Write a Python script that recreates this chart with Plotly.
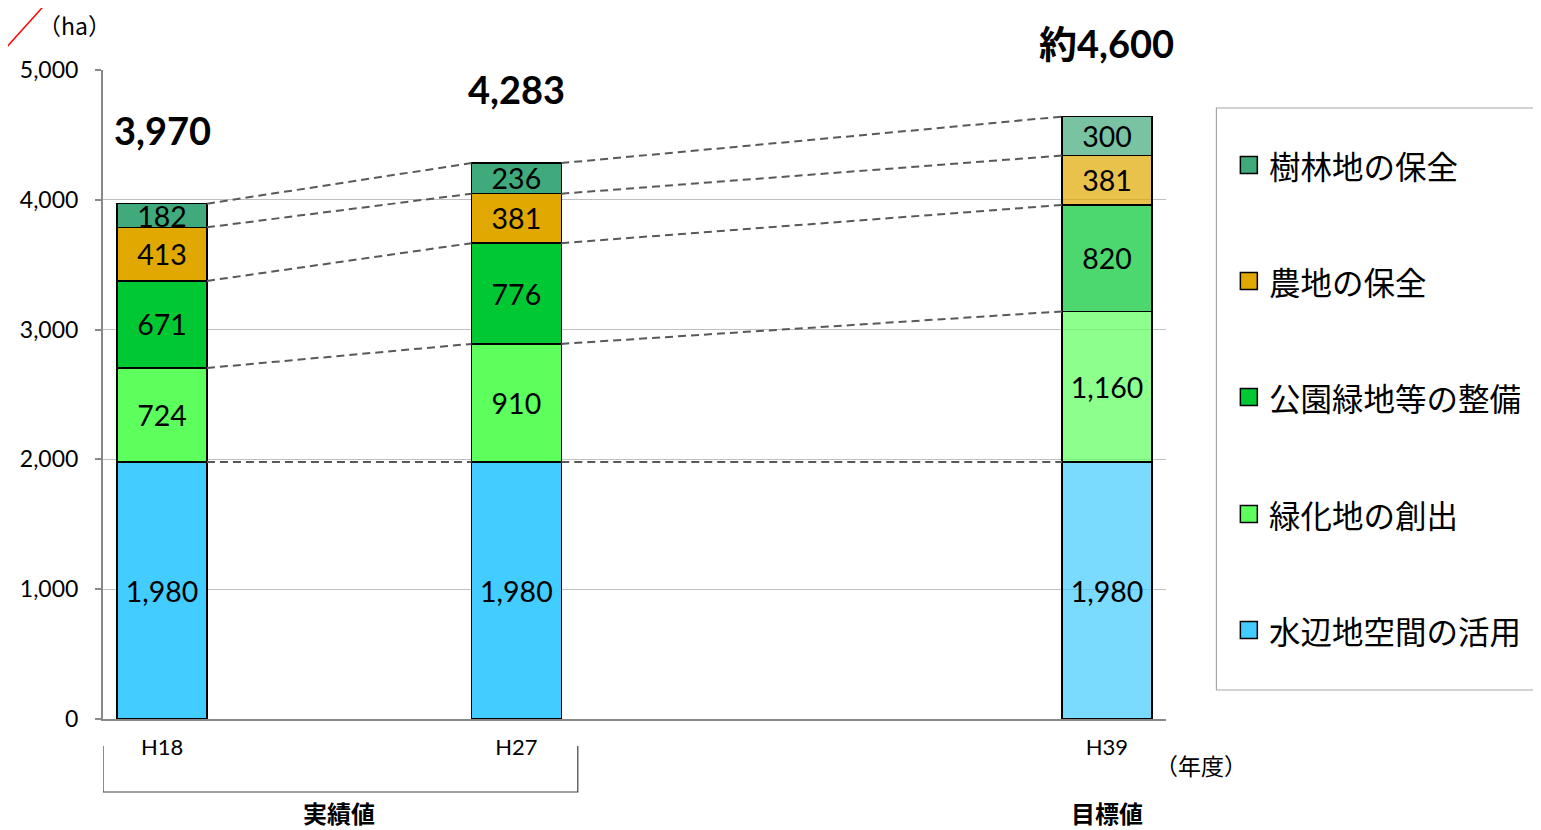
import plotly.graph_objects as go

# ---------------- data ----------------
years = ["H18", "H27", "H39"]
x_idx = [0, 3, 8]          # category slot of each year on a 9-slot axis
series_names = ["水辺地空間の活用", "緑化地の創出", "公園緑地等の整備", "農地の保全", "樹林地の保全"]
water = [1980, 1980, 1980]
greening = [724, 910, 1160]
parks = [671, 776, 820]
farmland = [413, 381, 381]
woodland = [182, 236, 300]
totals_text = ["3,970", "4,283", "約4,600"]
series_values = [water, greening, parks, farmland, woodland]
series_colors = [(66, 204, 255), (92, 255, 92), (0, 200, 50), (224, 168, 0), (64, 170, 124)]
target_alpha = 0.7
group_labels = ["実績値", "目標値"]

# ---------------- layout helpers ----------------
OX, OY = 8, 8                      # page body margin
W, H = 1541 - OX, 830 - OY
L, R, T, B = 101, 1166, 70, 719    # plot area in page pixels
def px(x):
    return (x - L) / (R - L)
def py(y):
    return (B - y) / (B - T)

FONT = "Lato, 'Noto Sans CJK JP', sans-serif"
JFONT = "'Noto Sans CJK JP', Lato, sans-serif"
bar_w = 0.76

fig = go.Figure()

for name, vals, (r, g, b) in zip(series_names, series_values, series_colors):
    cols = [f"rgb({r},{g},{b})", f"rgb({r},{g},{b})", f"rgba({r},{g},{b},{target_alpha})"]
    fig.add_trace(go.Bar(
        x=x_idx, y=vals, name=name, width=bar_w,
        marker=dict(color=cols, line=dict(color="black", width=1.5)),
        text=[f"{v:,}" for v in vals], textposition="inside", insidetextanchor="middle",
        textfont=dict(size=28.5, color="black", family=FONT), constraintext="none",
        showlegend=False, hoverinfo="name+y",
    ))

# series (connector) lines between bar edges
cum = [0, 0, 0]
for vals in series_values:
    cum = [c + v for c, v in zip(cum, vals)]
    xs, ys = [], []
    for i in range(len(x_idx) - 1):
        xs += [x_idx[i] + bar_w / 2, x_idx[i + 1] - bar_w / 2, None]
        ys += [cum[i], cum[i + 1], None]
    fig.add_trace(go.Scatter(x=xs, y=ys, mode="lines", showlegend=False, hoverinfo="skip",
                             line=dict(color="#595959", width=2, dash="8px,5px")))

annotations = []
# totals
for xi, t, tot in zip(x_idx, totals_text, cum):
    annotations.append(dict(x=xi, y=tot, xref="x", yref="y", text=f"<b>{t}</b>", showarrow=False,
                            xanchor="center", yanchor="middle", yshift=74,
                            font=dict(size=38, color="black", family=FONT)))

# axis unit texts
annotations.append(dict(x=px(72), y=py(25), xref="paper", yref="paper", text="（ha）", showarrow=False,
                        xanchor="center", yanchor="middle", font=dict(size=23, color="black", family=JFONT)))
annotations.append(dict(x=px(1201), y=py(765), xref="paper", yref="paper", text="（年度）", showarrow=False,
                        xanchor="center", yanchor="middle", font=dict(size=23, color="black", family=JFONT)))
# group labels
annotations.append(dict(x=1.5, y=py(812), xref="x", yref="paper", text=f"<b>{group_labels[0]}</b>",
                        showarrow=False, xanchor="center", yanchor="middle",
                        font=dict(size=24, color="black", family=JFONT)))
annotations.append(dict(x=x_idx[2], y=py(812), xref="x", yref="paper", text=f"<b>{group_labels[1]}</b>",
                        showarrow=False, xanchor="center", yanchor="middle",
                        font=dict(size=24, color="black", family=JFONT)))

shapes = []
# bracket under actual values
shapes.append(dict(type="path", xref="x", yref="paper",
                   path=f"M -0.5,{py(746)} L -0.5,{py(792)} L 3.52,{py(792)} L 3.52,{py(746)}",
                   line=dict(color="#404040", width=1.2)))
# red corner line
shapes.append(dict(type="line", xref="paper", yref="paper", x0=px(0), y0=py(52), x1=px(47), y1=py(0),
                   line=dict(color="red", width=1.5)))

# legend (drawn manually to match the box layout)
shapes.append(dict(type="rect", xref="paper", yref="paper", x0=px(1216.5), x1=px(1560), y0=py(690), y1=py(108),
                   line=dict(color="#A6A6A6", width=1.2), fillcolor="white", layer="below"))
leg_y = [630, 514, 397, 281, 165]
for name, (r, g, b), yc in zip(series_names, series_colors, leg_y):
    shapes.append(dict(type="rect", xref="paper", yref="paper", x0=px(1240.5), x1=px(1257.5),
                       y0=py(yc + 8.5), y1=py(yc - 8.5), fillcolor=f"rgb({r},{g},{b})",
                       line=dict(color="black", width=1.5)))
    annotations.append(dict(x=px(1267), y=py(yc), xref="paper", yref="paper", text=name, showarrow=False,
                            xanchor="left", yanchor="middle", font=dict(size=31.5, color="black", family=JFONT)))

fig.update_layout(
    width=W, height=H, autosize=False,
    margin=dict(l=L - OX, r=(W + OX) - R, t=T - OY, b=(H + OY) - B, pad=0),
    paper_bgcolor="white", plot_bgcolor="white",
    barmode="stack", bargap=0.24,
    font=dict(family=FONT, color="black"),
    annotations=annotations, shapes=shapes,
    showlegend=False,
)
fig.update_xaxes(range=[-0.5, 8.5], tickvals=x_idx, ticktext=years, showgrid=False, zeroline=False,
                 showline=True, linecolor="#898989", linewidth=2, ticks="", ticklabelstandoff=8,
                 tickfont=dict(size=22, color="black", family=FONT), fixedrange=True)
fig.update_yaxes(range=[0, 5000], tickvals=[0, 1000, 2000, 3000, 4000, 5000], tickformat=",",
                 showgrid=True, gridcolor="#C0C0C0", gridwidth=1, zeroline=False,
                 showline=True, linecolor="#898989", linewidth=2, ticks="outside", ticklen=6,
                 tickcolor="#898989", tickwidth=1.5, ticklabelstandoff=12,
                 tickfont=dict(size=23, color="black", family=FONT), fixedrange=True)

fig.write_html("out.html")
